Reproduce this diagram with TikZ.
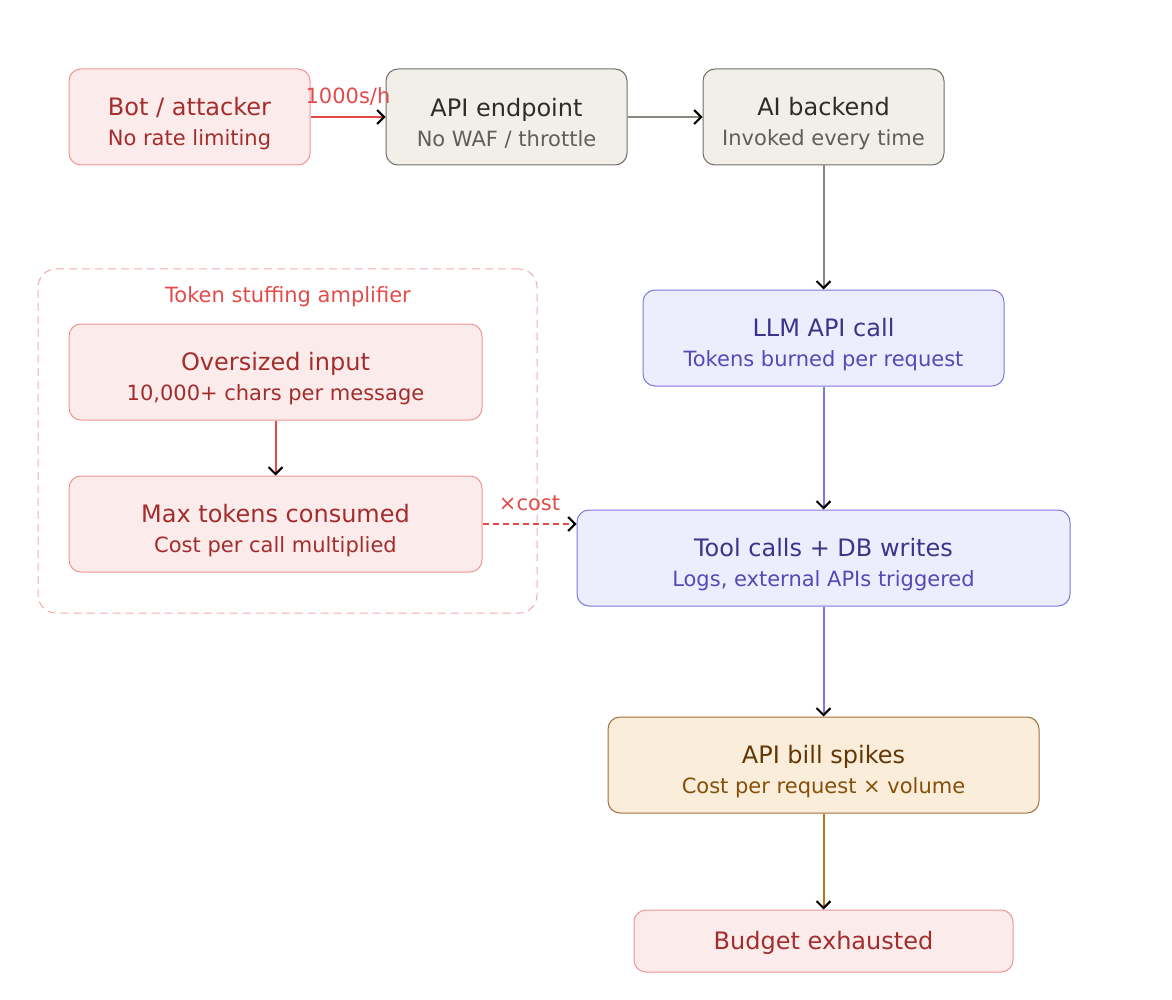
\documentclass[tikz,border=0pt]{standalone}
\usepackage{fontspec}
\setmainfont{DejaVu Sans}
\usetikzlibrary{positioning, arrows.meta}

\definecolor{redfill}{HTML}{FCEBEB}
\definecolor{redline}{HTML}{F09595}
\definecolor{redtext}{HTML}{A32D2D}
\definecolor{redarrow}{HTML}{E24B4A}
\definecolor{grayfill}{HTML}{F1EFE8}
\definecolor{grayline}{HTML}{6F6E69}
\definecolor{graytitle}{HTML}{2C2C2A}
\definecolor{graysub}{HTML}{5F5E5A}
\definecolor{grayarrow}{HTML}{888780}
\definecolor{purplefill}{HTML}{EEEDFE}
\definecolor{purpleline}{HTML}{7F77DD}
\definecolor{purpletitle}{HTML}{3C3489}
\definecolor{purplesub}{HTML}{534AB7}
\definecolor{amberfill}{HTML}{FAEEDA}
\definecolor{amberline}{HTML}{A0703A}
\definecolor{ambertitle}{HTML}{633806}
\definecolor{ambersub}{HTML}{854F0B}
\definecolor{amberarrow}{HTML}{BA7517}

\newcommand{\ttl}[1]{{\fontsize{12}{14.5}\selectfont #1}}

\begin{document}
\begin{tikzpicture}[x=0.5pt, y=-0.5pt,
    box/.style={rounded corners=6pt, line width=0.5pt, inner sep=0pt, align=center,
        font=\fontsize{10.5}{15}\selectfont, minimum height=48pt, text height=30.5pt},
    redbox/.style={box, fill=redfill, draw=redline, text=redtext},
    graybox/.style={box, fill=grayfill, draw=grayline, text=graytitle},
    purplebox/.style={box, fill=purplefill, draw=purpleline, text=purpletitle},
    amberbox/.style={box, fill=amberfill, draw=amberline, text=ambertitle},
    flow/.style={line width=1pt, -{Straight Barb[black, length=3.5pt, width=7pt]}},
    lbl/.style={font=\fontsize{10.5}{12}\selectfont, text=redarrow}]
    \useasboundingbox (0,0) rectangle (1172,1000);

    % amplifier group
    \node[draw=redline!80, dash pattern=on 4pt off 2.5pt, rounded corners=9pt, line width=0.5pt,
        minimum width=249.5pt, minimum height=172pt] (stuffing) at (287.5,441) {};
    \node[lbl] (stuffinglabel) at (288,297) {Token stuffing amplifier};

    % top row
    \node[redbox, minimum width=120.5pt] (bot) at (189.5,117)
        {\ttl{Bot / attacker}\\No rate limiting};
    \node[graybox, minimum width=120.5pt] (endpoint) at (506.5,117)
        {\ttl{API endpoint}\\\textcolor{graysub}{No WAF / throttle}};
    \node[graybox, minimum width=120.5pt] (backend) at (823.5,117)
        {\ttl{AI backend}\\\textcolor{graysub}{Invoked every time}};

    % right column
    \node[purplebox, minimum width=180.5pt] (llm) at (823.5,338)
        {\ttl{LLM API call}\\\textcolor{purplesub}{Tokens burned per request}};
    \node[purplebox, minimum width=246.5pt] (tools) at (823.5,558)
        {\ttl{Tool calls + DB writes}\\\textcolor{purplesub}{Logs, external APIs triggered}};
    \node[amberbox, minimum width=215.5pt] (bill) at (823.5,765)
        {\ttl{API bill spikes}\\\textcolor{ambersub}{Cost per request × volume}};
    \node[redbox, minimum width=189.5pt, minimum height=31pt, text height=11pt] (budget) at (823.5,941)
        {\ttl{Budget exhausted}};

    % left column
    \node[redbox, minimum width=206.5pt] (oversized) at (275.5,372)
        {\ttl{Oversized input}\\10,000+ chars per message};
    \node[redbox, minimum width=206.5pt] (maxtok) at (275.5,524)
        {\ttl{Max tokens consumed}\\Cost per call multiplied};

    % connectors
    \draw[flow, redarrow] (bot) -- node[lbl, above=2pt] (ratelabel) {1000s/h} (endpoint);
    \draw[flow, grayarrow] (endpoint) -- (backend);
    \draw[flow, grayarrow] (backend) -- (llm);
    \draw[flow, purpleline] (llm) -- (tools);
    \draw[flow, purpleline] (tools) -- (bill);
    \draw[flow, amberarrow] (bill) -- (budget);
    \draw[flow, redarrow] (oversized) -- (maxtok);
    \draw[flow, redarrow, dash pattern=on 3pt off 2pt] (maxtok.east)
        -- node[lbl, above=3pt] (costlabel) {×cost} (maxtok.east -| tools.west);
\end{tikzpicture}
\end{document}
